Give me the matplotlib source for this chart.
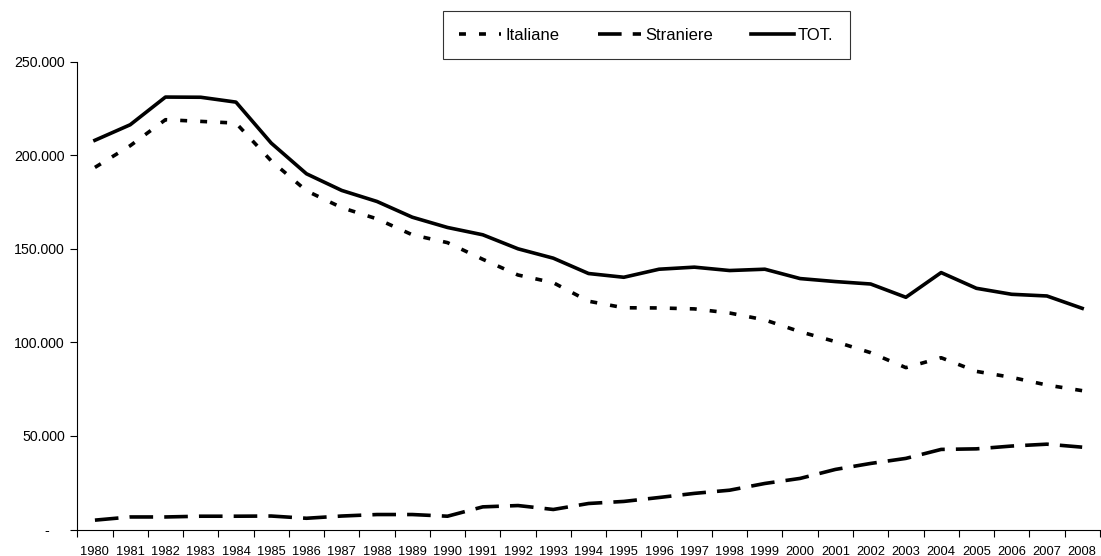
import matplotlib
matplotlib.use("Agg")
import matplotlib.pyplot as plt
from matplotlib.ticker import FuncFormatter, FixedLocator

years = list(range(1980, 2009))
italiane = [193500, 205100, 219000, 218100, 217200, 197000, 181000, 172000, 166000,
            157500, 153300, 144400, 136000, 131900, 122000, 118500, 118400, 117900,
            115700, 112000, 105700, 100400, 94500, 86500, 91800, 84500, 81300, 77200, 74200]
straniere = [5000, 6700, 6700, 7100, 7100, 7200, 6000, 7200, 8000, 8000, 7100, 12100,
             12800, 10700, 13900, 15000, 17100, 19300, 21000, 24600, 27300, 32100, 35300,
             38000, 42800, 43100, 44600, 45600, 44000]
tot = [208000, 216300, 231100, 231000, 228400, 206500, 190100, 181200, 175300, 166900,
       161400, 157500, 150000, 145000, 136800, 134800, 139100, 140200, 138400, 139100,
       134100, 132500, 131200, 124100, 137300, 128900, 125700, 124800, 118200]
series_labels = ["Italiane", "Straniere", "TOT."]
y_ticks = [0, 50000, 100000, 150000, 200000, 250000]

plt.rcParams['font.family'] = ['Liberation Sans', 'DejaVu Sans']
plt.rcParams['lines.scale_dashes'] = False

fig = plt.figure(figsize=(11.01, 5.56), dpi=100)
ax = fig.add_axes([77.3 / 1101, 1 - 529.5 / 556, (1099.8 - 77.3) / 1101, (529.5 - 61.7) / 556])

x = list(range(len(years)))
lw = 2.6
l1, = ax.plot(x, italiane, color='black', lw=lw, dashes=(5, 9.4),
              dash_capstyle='butt', label=series_labels[0])
l2, = ax.plot(x, straniere, color='black', lw=lw, dashes=(17, 8), dash_capstyle='butt',
              label=series_labels[1])
l3, = ax.plot(x, tot, color='black', lw=lw, label=series_labels[2])

ax.set_xlim(-0.5, len(years) - 0.5)
ax.set_ylim(0, 250000)

# category boundaries as major ticks, labels at centres
ax.xaxis.set_major_locator(FixedLocator([i - 0.5 for i in range(len(years) + 1)]))
ax.xaxis.set_minor_locator(FixedLocator(x))
ax.set_xticklabels([], minor=False)
ax.set_xticklabels([str(y) for y in years], minor=True)
ax.tick_params(axis='x', which='major', length=5, width=0.8, direction='out', color='black')
ax.tick_params(axis='x', which='minor', length=0, pad=12, labelsize=9.3)

ax.set_yticks(y_ticks)
def fmt(v, pos):
    if v == 0:
        return "-    "
    return f"{int(v):,}".replace(",", ".")
ax.yaxis.set_major_formatter(FuncFormatter(fmt))
ax.tick_params(axis='y', length=5, width=0.8, direction='out', pad=4, labelsize=10.2, color='black')

for s in ['top', 'right']:
    ax.spines[s].set_visible(False)
for s in ['left', 'bottom']:
    ax.spines[s].set_linewidth(0.8)
    ax.spines[s].set_color('black')

leg = fig.legend(handles=[l1, l2, l3], loc='center', ncol=3,
                 bbox_to_anchor=((441.7 + 850.7) / 2 / 1101, 1 - 35 / 556),
                 fontsize=12, frameon=True, fancybox=False, edgecolor='black',
                 handlelength=2.55, handletextpad=0.25, columnspacing=2.32,
                 borderpad=0.98, borderaxespad=0)
leg.get_frame().set_linewidth(0.8)

fig.savefig("out.png", dpi=100)
